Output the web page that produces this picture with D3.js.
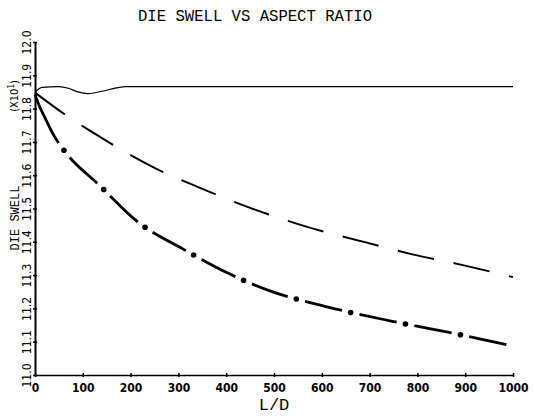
<!DOCTYPE html>
<html>
<head>
<meta charset="utf-8">
<script src="https://cdn.jsdelivr.net/npm/d3@7"></script>
<style>
  body { margin: 0; background: #fff; }
  svg { display: block; }
</style>
</head>
<body>
<div id="chart"></div>
<script>
// values
const flatLD = [0, 15, 50, 70, 90, 110, 140, 170, 190, 1000];
const flatSwell = [11.850, 11.864, 11.866, 11.861, 11.850, 11.845, 11.852, 11.862, 11.866, 11.866];

const dashLD = [0, 73, 119, 167, 203, 253, 345, 450, 571, 690, 787, 895, 1000];
const dashSwell = [11.848, 11.772, 11.730, 11.688, 11.658, 11.620, 11.562, 11.502, 11.444, 11.399, 11.363, 11.330, 11.294];

const dotLD = [0, 10, 20, 40, 61, 136, 213, 310, 408, 487, 613, 745, 883, 1000];
const dotSwell = [11.842, 11.805, 11.775, 11.718, 11.674, 11.568, 11.462, 11.378, 11.303, 11.255, 11.204, 11.162, 11.123, 11.087];

const xTicks = [0, 100, 200, 300, 400, 500, 600, 700, 800, 900, 1000];
const yTicks = [11.0, 11.1, 11.2, 11.3, 11.4, 11.5, 11.6, 11.7, 11.8, 11.9, 12.0];

const width = 534, height = 417;

const svg = d3.select('#chart')
    .append('svg')
    .attr('width', width)
    .attr('height', height);

const x = d3.scaleLinear().domain([0, 1000]).range([35, 513]);
const y = d3.scaleLinear().domain([11.0, 12.0]).range([375, 42]);

// title
svg.append('text')
    .attr('x', 255)
    .attr('y', 21)
    .attr('text-anchor', 'middle')
    .attr('font-family', 'Liberation Mono, DejaVu Sans Mono, monospace')
    .attr('font-size', 17)
    .attr('textLength', 234)
    .attr('lengthAdjust', 'spacingAndGlyphs')
    .text('DIE SWELL VS ASPECT RATIO');

// x axis
const xAxis = svg.append('g')
    .attr('transform', `translate(0,${y(11.0)})`)
    .call(d3.axisBottom(x).tickValues(xTicks).tickSize(0).tickPadding(8).tickFormat(d3.format('d')));
xAxis.select('.domain').attr('stroke', '#000').attr('stroke-width', 1.6);
xAxis.selectAll('.tick line').attr('y1', -2).attr('y2', 2).attr('stroke', '#000').attr('stroke-width', 1.5);
xAxis.selectAll('.tick text')
    .attr('font-family', 'Liberation Sans Narrow, DejaVu Sans Condensed, sans-serif')
    .attr('font-weight', 'bold')
    .attr('font-size', 12)
    .attr('fill', '#000');

// y axis
const yAxis = svg.append('g')
    .attr('transform', `translate(${x(0)},0)`)
    .call(d3.axisLeft(y).tickValues(yTicks).tickSize(0).tickFormat(d3.format('.1f')));
yAxis.select('.domain').attr('stroke', '#000').attr('stroke-width', 2);
yAxis.selectAll('.tick line').attr('x1', -2).attr('x2', 2).attr('stroke', '#000').attr('stroke-width', 1.5);
yAxis.selectAll('.tick text')
    .attr('font-family', 'Liberation Sans Narrow, DejaVu Sans Condensed, sans-serif')
    .attr('font-size', 12)
    .attr('fill', '#000')
    .attr('text-anchor', 'middle')
    .attr('dy', null)
    .attr('x', null)
    .attr('transform', 'translate(-4,0) rotate(-90)');

// axis titles
svg.append('text')
    .attr('transform', 'translate(274,410)')
    .attr('text-anchor', 'middle')
    .attr('font-family', 'Liberation Mono, DejaVu Sans Mono, monospace')
    .attr('font-size', 17)
    .text('L/D');

svg.append('text')
    .attr('transform', 'translate(19,218) rotate(-90)')
    .attr('text-anchor', 'middle')
    .attr('font-family', 'Liberation Mono, DejaVu Sans Mono, monospace')
    .attr('font-size', 12)
    .text('DIE SWELL');

const mult = svg.append('text')
    .attr('transform', 'translate(18,96) rotate(-90)')
    .attr('text-anchor', 'middle')
    .attr('font-family', 'Liberation Sans Narrow, DejaVu Sans Condensed, sans-serif')
    .attr('font-size', 11);
mult.append('tspan').text('(X10');
mult.append('tspan').attr('dy', -4).attr('font-size', 8).text('1');
mult.append('tspan').attr('dy', 4).text(')');

const line = d3.line()
    .x(d => x(d[0]))
    .y(d => y(d[1]))
    .curve(d3.curveMonotoneX);

const zip = (a, b) => a.map((v, i) => [v, b[i]]);

// solid
svg.append('path')
    .attr('d', line(zip(flatLD, flatSwell)))
    .attr('fill', 'none')
    .attr('stroke', '#000')
    .attr('stroke-width', 1.2);

// dashed
svg.append('path')
    .attr('d', line(zip(dashLD, dashSwell)))
    .attr('fill', 'none')
    .attr('stroke', '#000')
    .attr('stroke-width', 2)
    .attr('stroke-dasharray', '37 20');

// dash-dot: long first dash, then dash/gap with a dot in each gap
const dotPath = svg.append('path')
    .attr('d', line(zip(dotLD, dotSwell)))
    .attr('fill', 'none')
    .attr('stroke', '#000')
    .attr('stroke-width', 2.8);

const total = dotPath.node().getTotalLength();
const dashes = [54];
let run = 54;
while (run < total + 60) { dashes.push(18, 38); run += 56; }
dotPath.attr('stroke-dasharray', dashes.join(' '));

const dotAt = [];
for (let s = 63; s < total - 5; s += 56) dotAt.push(dotPath.node().getPointAtLength(s));
svg.selectAll('circle.dot')
    .data(dotAt)
    .enter()
    .append('circle')
    .attr('class', 'dot')
    .attr('cx', p => p.x)
    .attr('cy', p => p.y)
    .attr('r', 2.8)
    .attr('fill', '#000');
</script>
</body>
</html>
